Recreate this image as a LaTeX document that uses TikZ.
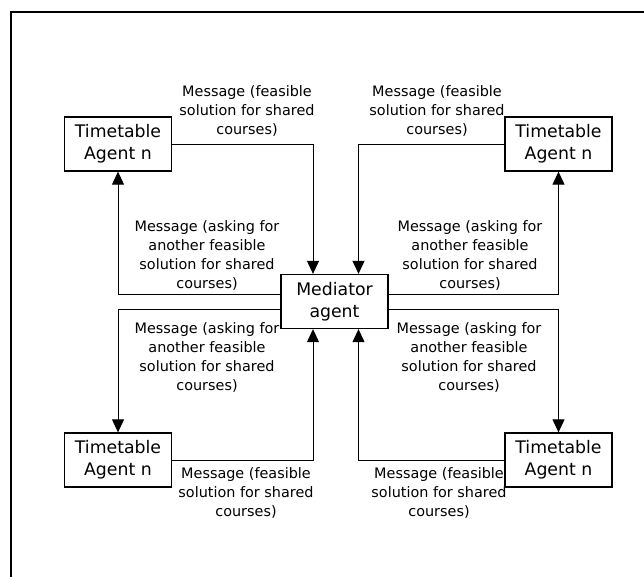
\documentclass[tikz,border=0pt]{standalone}
\usepackage{fontspec}
\setmainfont{DejaVu Sans}
\usetikzlibrary{arrows.meta}

\begin{document}
\begin{tikzpicture}[x=1pt,y=-1pt,
    agent/.style={draw, line width=1.3pt, minimum width=107pt, minimum height=54pt, align=center, font=\fontsize{17.3}{22}\selectfont, inner sep=0pt},
    msg/.style={align=center, font=\fontsize{14.4}{19}\selectfont, inner sep=0pt},
    link/.style={line width=1pt, -{Triangle[length=13pt,width=12pt]}}]
        \useasboundingbox (0,0) rectangle (644,576);
        \draw[line width=1.5pt] (11,580) -- (11,12) -- (650,12);                 % frame

        \node[agent](med) at (334.5,301.5) {Mediator\\agent};
        \node[agent](tl) at (118,144) {Timetable\\Agent n};
        \node[agent](tr) at (558.5,144) {Timetable\\Agent n};
        \node[agent](bl) at (118,460) {Timetable\\Agent n};
        \node[agent](br) at (558.5,460) {Timetable\\Agent n};

        \draw[link] (tl.east) -| ([xshift=-21.5pt]med.north);   % top left
        \draw[link] ([yshift=7.5pt]med.west) -| (tl.south);
        \draw[link] (tr.west) -| ([xshift=24pt]med.north);      % top right
        \draw[link] ([yshift=7.5pt]med.east) -| (tr.south);
        \draw[link] ([yshift=-7.5pt]med.west) -| (bl.north);    % bottom left
        \draw[link] (bl.east) -| ([xshift=-21.5pt]med.south);
        \draw[link] ([yshift=-7.5pt]med.east) -| (br.north);    % bottom right
        \draw[link] (br.west) -| ([xshift=24pt]med.south);

        \node[msg](m1) at (247,111) {Message (feasible\\solution for shared\\courses)};
        \node[msg](m2) at (207,255) {Message (asking for\\another feasible\\solution for shared\\courses)};
        \node[msg](m3) at (437,111) {Message (feasible\\solution for shared\\courses)};
        \node[msg](m4) at (470,255) {Message (asking for\\another feasible\\solution for shared\\courses)};
        \node[msg](m5) at (207,357) {Message (asking for\\another feasible\\solution for shared\\courses)};
        \node[msg](m6) at (246,493) {Message (feasible\\solution for shared\\courses)};
        \node[msg](m7) at (469,357) {Message (asking for\\another feasible\\solution for shared\\courses)};
        \node[msg](m8) at (439,493) {Message (feasible\\solution for shared\\courses)};
\end{tikzpicture}
\end{document}
